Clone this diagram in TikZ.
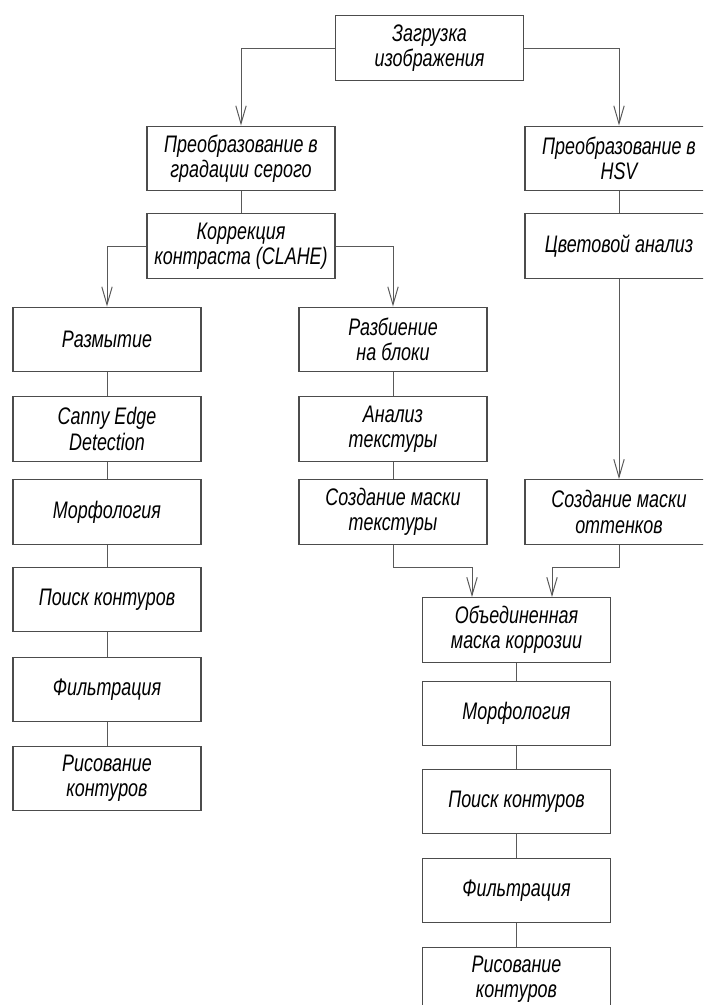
\documentclass[tikz,border=0pt]{standalone}
\usepackage{fontspec}
\newfontfamily\gostfont[FakeStretch=0.75]{Liberation Sans}
\usepackage{tikz}
\usetikzlibrary{arrows.meta}

\tikzset{
  stage/.style={draw=black!70, line width=0.8pt, minimum width=4.7cm,
    minimum height=1.62cm, align=center, inner sep=2pt,
    font=\gostfont\itshape\fontsize{17}{18}\selectfont},
  link/.style={draw=black!65, line width=0.7pt},
  flow/.style={link, -{Straight Barb[length=4.5mm, width=2.6mm]}}
}

\begin{document}
\begin{tikzpicture}[x=0.025cm, y=-0.025cm]
  \useasboundingbox (0,0) rectangle (703,1005);
  \clip (0,0) rectangle (703,1005);

  % Input
  \node[stage] (load) at (429.5,48) {Загрузка\\изображения};

  % Grayscale branch
  \node[stage] (gray) at (241,158.5) {Преобразование в\\градации серого};
  \node[stage] (clahe) at (241,246) {Коррекция\\контраста (CLAHE)};

  % HSV branch
  \node[stage] (hsv) at (619,158.5) {Преобразование в\\HSV};
  \node[stage] (color) at (619,246) {Цветовой анализ};
  \node[stage] (huemask) at (619,512) {Создание маски\\оттенков};

  % Edge column
  \node[stage] (blur) at (107,339.5) {Размытие};
  \node[stage] (canny) at (107,429) {Canny Edge\\Detection};
  \node[stage] (morphA) at (107,512) {Морфология};
  \node[stage] (findA) at (107,599.5) {Поиск контуров};
  \node[stage] (filtA) at (107,689.5) {Фильтрация};
  \node[stage] (drawA) at (107,778.5) {Рисование\\контуров};

  % Texture column
  \node[stage] (blocks) at (393,339.5) {Разбиение\\на блоки};
  \node[stage] (texture) at (393,429) {Анализ\\текстуры};
  \node[stage] (texmask) at (393,512) {Создание маски\\текстуры};

  % Merged mask column
  \node[stage] (merge) at (516.5,630) {Объединенная\\маска коррозии};
  \node[stage] (morphB) at (516.5,713.5) {Морфология};
  \node[stage] (findB) at (516.5,801.5) {Поиск контуров};
  \node[stage] (filtB) at (516.5,890.5) {Фильтрация};
  \node[stage] (drawB) at (516.5,979.5) {Рисование\\контуров};

  \coordinate (joinL) at (472,567);
  \coordinate (joinR) at (552,567);

  % Connectors
  \draw[flow] (load) -| (gray);
  \draw[flow] (load) -| (hsv);
  \draw[link] (gray) -- (clahe);
  \draw[flow] (clahe) -| (blur);
  \draw[flow] (clahe) -| (blocks);
  \draw[link] (hsv) -- (color);
  \draw[flow] (color) -- (huemask);
  \draw[link] (blur) -- (canny) -- (morphA) -- (findA) -- (filtA) -- (drawA);
  \draw[link] (blocks) -- (texture) -- (texmask);
  \draw[flow] (texmask) |- (joinL) -- (joinL |- merge.north);
  \draw[flow] (huemask) |- (joinR) -- (joinR |- merge.north);
  \draw[link] (merge) -- (morphB) -- (findB) -- (filtB) -- (drawB);
\end{tikzpicture}
\end{document}
